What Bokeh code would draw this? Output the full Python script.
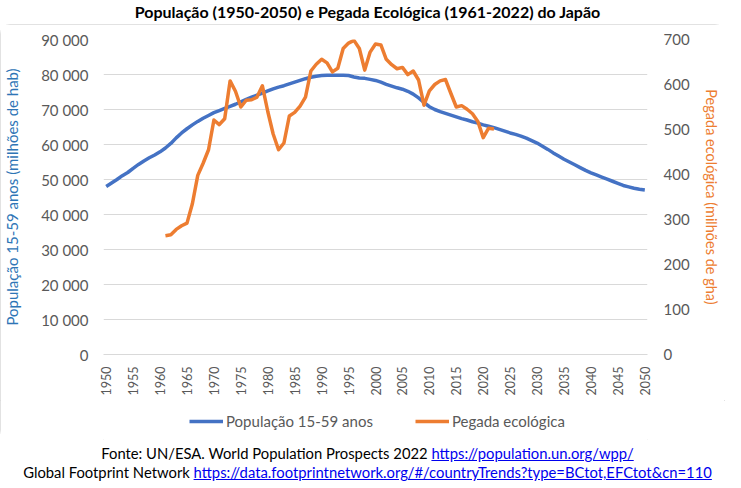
from math import pi

from bokeh.plotting import figure
from bokeh.layouts import column
from bokeh.models import Range1d, LinearAxis, FixedTicker, Legend, LegendItem, Div
from bokeh.embed import file_html
from bokeh.resources import INLINE

# data
years = list(range(1950, 2051))
pop_15_59 = [
    48000, 49000, 50000, 51100, 52000, 53200, 54300, 55300, 56200, 57000,   # 1950-59
    57900, 59000, 60300, 61900, 63300, 64500, 65600, 66600, 67500, 68300,   # 1960-69
    69100, 69700, 70300, 70900, 71500, 72200, 72900, 73500, 74100, 74700,   # 1970-79
    75300, 75900, 76400, 76800, 77300, 77800, 78300, 78800, 79200, 79500,   # 1980-89
    79700, 79800, 79800, 79800, 79800, 79700, 79300, 79000, 78900, 78600,   # 1990-99
    78300, 77800, 77200, 76700, 76200, 75800, 75200, 74400, 73300, 72000,   # 2000-09
    70800, 70000, 69400, 68900, 68400, 67900, 67400, 67000, 66500, 66100,   # 2010-19
    65600, 65200, 64800, 64300, 63800, 63300, 62900, 62400, 61800, 61100,   # 2020-29
    60400, 59500, 58600, 57600, 56700, 55800, 55000, 54200, 53400, 52600,   # 2030-39
    51900, 51300, 50700, 50100, 49500, 48900, 48300, 47900, 47500, 47200,   # 2040-49
    47000,                                                                  # 2050
]

eco_years = list(range(1961, 2023))
pegada = [
    264, 266, 278, 286, 292, 335, 398, 425, 455,                            # 1961-69
    521, 511, 524, 608, 585, 550, 565, 566, 572, 597,                       # 1970-79
    540, 490, 455, 470, 530, 538, 552, 572, 630, 645,                       # 1980-89
    656, 648, 628, 636, 680, 692, 698, 680, 632, 672,                       # 1990-99
    690, 688, 656, 644, 635, 638, 622, 630, 610, 554,                       # 2000-09
    586, 600, 608, 611, 580, 550, 553, 545, 535, 518,                       # 2010-19
    482, 503, 501,                                                          # 2020-22
]

x_ticks = list(range(1950, 2051, 5))
pop_ticks = list(range(0, 90001, 10000))
pop_tick_labels = ["0", "10 000", "20 000", "30 000", "40 000", "50 000",
                   "60 000", "70 000", "80 000", "90 000"]
eco_ticks = list(range(0, 701, 100))

title_text = "População (1950-2050) e Pegada Ecológica (1961-2022) do Japão"
series_names = ["População 15-59 anos", "Pegada ecológica"]
source_plain = ["Fonte: UN/ESA. World Population Prospects 2022",
                "Global Footprint Network"]
source_links = ["https://population.un.org/wpp/",
                "https://data.footprintnetwork.org/#/countryTrends?type=BCtot,EFCtot&cn=110"]

BLUE = "#4472C4"
ORANGE = "#ED7D31"
GREY = "#595959"
FONT = "Lato"

W = 725

title_div = Div(
    text=f'<div style="font-family:{FONT};font-weight:bold;font-size:16px;line-height:14px;'
         f'text-align:center;white-space:nowrap;color:#000;width:{W}px">{title_text}</div>',
    width=W, height=14)

p = figure(width=W, height=376, x_range=Range1d(1949.5, 2050.5), y_range=Range1d(0, 90000),
           output_backend="svg", toolbar_location=None,
           min_border_left=100, min_border_right=78, min_border_top=15, min_border_bottom=46)
p.extra_y_ranges = {"eco": Range1d(0, 700)}
p.outline_line_color = None
p.xgrid.grid_line_color = None
p.ygrid.grid_line_color = "#D9D9D9"
p.ygrid.grid_line_width = 1

# bottom axis
p.xaxis.ticker = FixedTicker(ticks=x_ticks)
p.xaxis.major_label_orientation = pi / 2
p.xaxis.major_label_text_font = FONT
p.xaxis.major_label_text_font_size = "12.5px"
p.xaxis.major_label_text_color = GREY
p.xaxis.major_label_standoff = 12
p.xaxis.major_tick_line_color = None
p.xaxis.major_tick_out = 0
p.xaxis.major_tick_in = 0
p.xaxis.minor_tick_line_color = None
p.xaxis.axis_line_color = "#D9D9D9"

# left axis
p.yaxis.ticker = FixedTicker(ticks=pop_ticks)
p.yaxis.major_label_overrides = {t: s for t, s in zip(pop_ticks, pop_tick_labels)}
p.yaxis.major_label_text_font = FONT
p.yaxis.major_label_text_font_size = "15px"
p.yaxis.major_label_text_color = GREY
p.yaxis.major_label_standoff = 15
p.yaxis.major_tick_line_color = None
p.yaxis.major_tick_out = 0
p.yaxis.major_tick_in = 0
p.yaxis.minor_tick_line_color = None
p.yaxis.axis_line_color = None
p.yaxis.axis_label = "População 15-59 anos (milhões de hab)"
p.yaxis.axis_label_text_font = FONT
p.yaxis.axis_label_text_font_size = "15px"
p.yaxis.axis_label_text_font_style = "normal"
p.yaxis.axis_label_text_color = "#2E75B6"
p.yaxis.axis_label_standoff = 17

# right axis
right = LinearAxis(y_range_name="eco", ticker=FixedTicker(ticks=eco_ticks))
right.major_label_text_font = FONT
right.major_label_text_font_size = "15px"
right.major_label_text_color = GREY
right.major_label_standoff = 16
right.major_tick_line_color = None
right.major_tick_out = 0
right.major_tick_in = 0
right.minor_tick_line_color = None
right.axis_line_color = None
right.axis_label = "Pegada ecológica (milhões de gha)"
right.axis_label_orientation = "vertical"
right.axis_label_text_font = FONT
right.axis_label_text_font_size = "14.5px"
right.axis_label_text_font_style = "normal"
right.axis_label_text_color = ORANGE
right.axis_label_standoff = 10
p.add_layout(right, "right")

p.line(years, pop_15_59, line_color=BLUE, line_width=3.5, line_join="round")
p.line(eco_years, pegada, line_color=ORANGE, line_width=3.5, line_join="round",
       y_range_name="eco")

# legend strip under the chart; its lines fall outside the strip's ranges,
# only the legend keys show
leg = figure(width=W, height=40, x_range=Range1d(0, 1), y_range=Range1d(0, 1),
             output_backend="svg", toolbar_location=None, min_border=0)
leg.axis.visible = False
leg.grid.grid_line_color = None
leg.outline_line_color = None
k_pop = leg.line(years, pop_15_59, line_color=BLUE, line_width=3.5)
k_eco = leg.line(eco_years, pegada, line_color=ORANGE, line_width=3.5)
legend = Legend(items=[LegendItem(label=series_names[0], renderers=[k_pop]),
                       LegendItem(label=series_names[1], renderers=[k_eco])],
                orientation="horizontal", location=(86, 9),
                glyph_width=34, glyph_height=20, label_standoff=3, spacing=42,
                padding=0, margin=0, border_line_color=None, background_fill_alpha=0,
                label_text_font=FONT, label_text_font_size="15px",
                label_text_color=GREY)
leg.add_layout(legend, "center")

chart_box = column(p, leg, spacing=0,
                   styles={"outline": "1px solid #D9D9D9", "outline-offset": "-1px",
                           "border-radius": "10px"})

src_lines = "<br>".join(
    f'{plain} <a href="{link}" style="color:#0000EE">{link}</a>'
    for plain, link in zip(source_plain, source_links))
src_div = Div(
    text=f'<div style="font-family:{FONT};font-size:14.8px;line-height:19px;position:relative;'
         f'top:-1px;height:38px;overflow:hidden;text-align:center;white-space:nowrap;'
         f'color:#000;width:{W}px">{src_lines}</div>',
    width=W, height=38)

layout = column(title_div, chart_box, src_div, spacing=0)

open("out.html", "w").write(file_html(layout, INLINE))
